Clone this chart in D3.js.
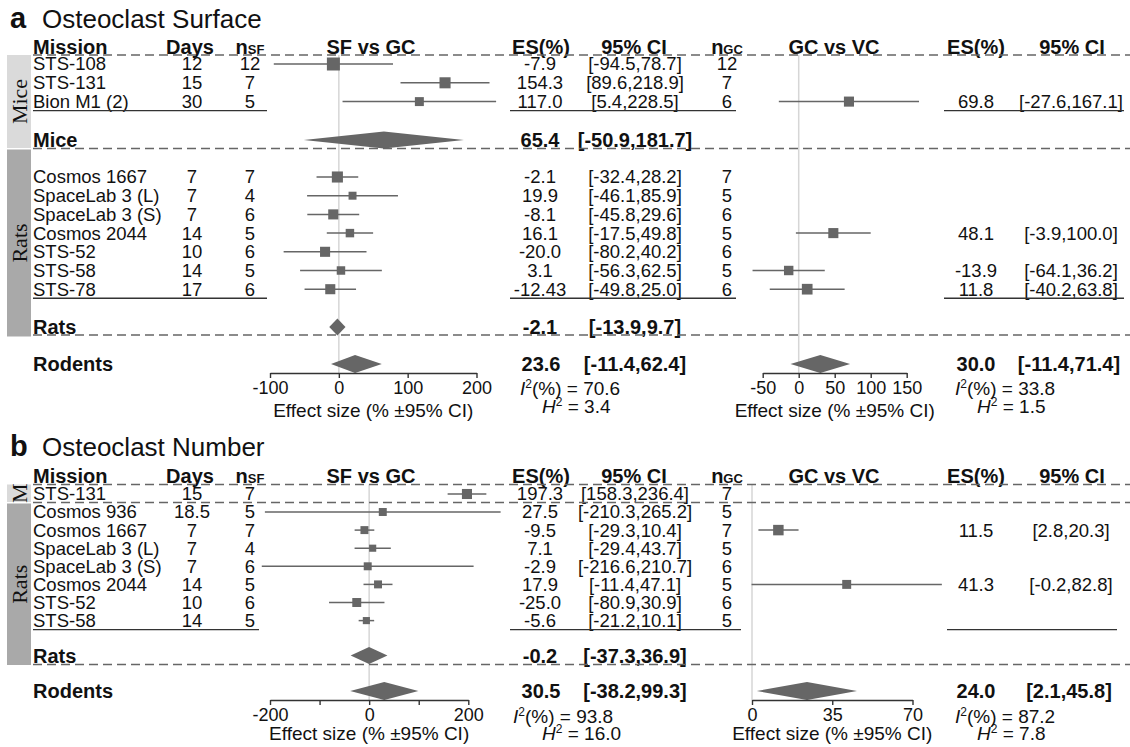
<!DOCTYPE html>
<html>
<head>
<meta charset="utf-8">
<script src="https://cdn.jsdelivr.net/npm/d3@7"></script>
<style>
  body { margin: 0; background: #fff; }
  svg text { font-family: "Liberation Sans", Arial, sans-serif; fill: #111; }
</style>
</head>
<body>
<svg id="chart" width="1130" height="747"></svg>
<script>
// ---- panel a: osteoclast surface ----
const aMission = ["STS-108", "STS-131", "Bion M1 (2)", "Cosmos 1667", "SpaceLab 3 (L)", "SpaceLab 3 (S)", "Cosmos 2044", "STS-52", "STS-58", "STS-78"];
const aGroup = ["Mice", "Mice", "Mice", "Rats", "Rats", "Rats", "Rats", "Rats", "Rats", "Rats"];
const aDays = [12, 15, 30, 7, 7, 7, 14, 10, 14, 17];
const aNsf = [12, 7, 5, 7, 4, 6, 5, 6, 5, 6];
const aNgc = [12, 7, 6, 7, 5, 6, 5, 6, 5, 6];
const aSfEs = [-7.9, 154.3, 117.0, -2.1, 19.9, -8.1, 16.1, -20.0, 3.1, -12.43];
const aSfLo = [-94.5, 89.6, 5.4, -32.4, -46.1, -45.8, -17.5, -80.2, -56.3, -49.8];
const aSfHi = [78.7, 218.9, 228.5, 28.2, 85.9, 29.6, 49.8, 40.2, 62.5, 25.0];
const aSfWeight = [40, 29, 19, 29, 15, 24, 17, 24, 17, 24];
const aGcEs = [null, null, 69.8, null, null, null, 48.1, null, -13.9, 11.8];
const aGcLo = [null, null, -27.6, null, null, null, -3.9, null, -64.1, -40.2];
const aGcHi = [null, null, 167.1, null, null, null, 100.0, null, 36.2, 63.8];
const aGcWeight = [null, null, 24, null, null, null, 24, null, 21, 27];
const aSubgroups = ["Mice", "Rats"];
const aSubEs = [65.4, -2.1];
const aSubLo = [-50.9, -13.9];
const aSubHi = [181.7, 9.7];
const aOverallSf = [23.6, -11.4, 62.4];
const aOverallGc = [30.0, -11.4, 71.4];
const aI2 = [70.6, 33.8];
const aH2 = [3.4, 1.5];
const aSfTicks = [-100, 0, 100, 200];
const aSfTickLabels = [-100, 0, 100, 200];
const aGcTicks = [-50, 0, 50, 100, 150];

// ---- panel b: osteoclast number ----
const bMission = ["STS-131", "Cosmos 936", "Cosmos 1667", "SpaceLab 3 (L)", "SpaceLab 3 (S)", "Cosmos 2044", "STS-52", "STS-58"];
const bGroup = ["M", "Rats", "Rats", "Rats", "Rats", "Rats", "Rats", "Rats"];
const bDays = [15, 18.5, 7, 7, 7, 14, 10, 14];
const bNsf = [7, 5, 7, 4, 6, 5, 6, 5];
const bNgc = [7, 5, 7, 5, 6, 5, 6, 5];
const bSfEs = [197.3, 27.5, -9.5, 7.1, -2.9, 17.9, -25.0, -5.6];
const bSfLo = [158.3, -210.3, -29.3, -29.4, -216.6, -11.4, -80.9, -21.2];
const bSfHi = [236.4, 265.2, 10.4, 43.7, 210.7, 47.1, 30.9, 10.1];
const bSfWeight = [24, 15, 15, 12, 15, 15, 19, 12];
const bGcEs = [null, null, 11.5, null, null, 41.3, null, null];
const bGcLo = [null, null, 2.8, null, null, -0.2, null, null];
const bGcHi = [null, null, 20.3, null, null, 82.8, null, null];
const bGcWeight = [null, null, 26, null, null, 19, null, null];
const bSubgroups = ["Rats"];
const bSubEs = [-0.2];
const bSubLo = [-37.3];
const bSubHi = [36.9];
const bOverallSf = [30.5, -38.2, 99.3];
const bOverallGc = [24.0, 2.1, 45.8];
const bI2 = [93.8, 87.2];
const bH2 = [16.0, 7.8];
const bSfTicks = [-200, -100, 0, 100, 200];
const bSfTickLabels = [-200, 0, 200];
const bGcTicks = [0, 35, 70];

const MARK = "#666", REF = "#d6d6d6", LINE = "#333", DASH = "#666";
const svg = d3.select("#chart");
const size = d3.scaleSqrt().domain([0, 40]).range([0, 13]);

// one decimal unless the value was reported with more
const fmt = v => {
	const t = v * 10;
	return Math.abs(t - Math.round(t)) < 1e-6 ? v.toFixed(1) : String(v);
};
const ciText = (lo, hi) => `[${fmt(lo)},${fmt(hi)}]`;

function txt(g, x, y, s, opts = {}) {
	return g.append("text")
		.attr("x", x).attr("y", y)
		.attr("dy", opts.dy !== undefined ? opts.dy : "0.35em")
		.attr("text-anchor", opts.anchor || "middle")
		.style("font-size", (opts.size || 18.5) + "px")
		.style("font-weight", opts.bold ? "bold" : null)
		.text(s);
}

function hline(g, x1, x2, y, dashed) {
	g.append("line")
		.attr("x1", x1).attr("x2", x2).attr("y1", y).attr("y2", y)
		.attr("stroke", dashed ? DASH : LINE)
		.attr("stroke-width", dashed ? 1.3 : 1.4)
		.attr("stroke-dasharray", dashed ? "9,5" : null);
}

function diamond(g, sc, y, es, lo, hi, h) {
	g.append("path")
		.attr("d", `M${sc(lo)},${y}L${sc(es)},${y - h}L${sc(hi)},${y}L${sc(es)},${y + h}Z`)
		.attr("fill", MARK);
}

function study(g, sc, y, es, lo, hi, w) {
	g.append("line")
		.attr("x1", sc(lo)).attr("x2", sc(hi)).attr("y1", y).attr("y2", y)
		.attr("stroke", MARK).attr("stroke-width", 1.5);
	const s = size(w);
	g.append("rect")
		.attr("x", sc(es) - s / 2).attr("y", y - s / 2)
		.attr("width", s).attr("height", s)
		.attr("fill", MARK);
}

function stats(g, x1, x2, y1, y2, i2, h2) {
	const t1 = g.append("text").attr("x", x1).attr("y", y1).attr("dy", "0.35em").style("font-size", "19px");
	t1.append("tspan").style("font-style", "italic").text("I");
	t1.append("tspan").attr("dy", -7).style("font-size", "12px").text("2");
	t1.append("tspan").attr("dy", 7).text(`(%) = ${fmt(i2)}`);
	const t2 = g.append("text").attr("x", x2).attr("y", y2).attr("dy", "0.35em").style("font-size", "19px");
	t2.append("tspan").style("font-style", "italic").text("H");
	t2.append("tspan").attr("dy", -7).style("font-size", "12px").text("2");
	t2.append("tspan").attr("dy", 7).text(` = ${fmt(h2)}`);
}

function axis(g, sc, ticks, labels, y) {
	const ax = g.append("g")
		.attr("transform", `translate(0,${y})`)
		.call(d3.axisBottom(sc).tickValues(ticks).tickSize(5).tickSizeOuter(0)
			.tickFormat(v => labels.includes(v) ? v : ""));
	ax.attr("font-family", null).attr("font-size", null);
	ax.select(".domain").attr("stroke", LINE).attr("stroke-width", 1.4);
	ax.selectAll(".tick line").attr("stroke", LINE).attr("stroke-width", 1.4);
	ax.selectAll(".tick text").attr("fill", "#111").style("font-size", "18px");
}

function drawPanel(d, L) {
	const g = svg.append("g");
	const x = d3.scaleLinear().domain(d3.extent(d.sfTicks)).range(L.sfRange);
	const xg = d3.scaleLinear().domain(d3.extent(d.gcTicks)).range(L.gcRange);

	// title
	g.append("text").attr("x", 10).attr("y", L.titleBase)
		.style("font-size", "29px").style("font-weight", "bold").text(d.letter);
	g.append("text").attr("x", 42).attr("y", L.titleBase)
		.style("font-size", "26px").text(d.title);

	// column headers
	const hb = L.headBase;
	const head = [["Mission", 33, "start"], ["Days", 190], ["SF vs GC", 371], ["ES(%)", 541], ["95% CI", 634],
		["GC vs VC", 834], ["ES(%)", 976], ["95% CI", 1072]];
	head.forEach(([s, hx, a]) => txt(g, hx, hb, s, { dy: 0, anchor: a, size: 20, bold: true }));
	[["SF", 250], ["GC", 727]].forEach(([sub, hx]) => {
		const t = txt(g, hx, hb, "", { dy: 0, size: 20, bold: true });
		t.append("tspan").text("n");
		t.append("tspan").style("font-size", "13px").text(sub);
	});

	// reference lines at zero
	[x(0), xg(0)].forEach(rx => {
		g.append("line").attr("x1", rx).attr("x2", rx).attr("y1", L.headDash).attr("y2", L.axisY)
			.attr("stroke", REF).attr("stroke-width", 1.5);
	});
	hline(g, 33, 1130, L.headDash, true);

	const groups = Array.from(new Set(d.group));
	groups.forEach((grp, gi) => {
		const G = L.groups[gi];
		const idx = d.group.map((v, i) => v === grp ? i : -1).filter(i => i >= 0);

		// side bar
		g.append("rect").attr("x", 7).attr("y", G.barTop).attr("width", 24)
			.attr("height", G.barBot - G.barTop).attr("fill", G.shade);
		g.append("text")
			.attr("transform", `translate(19,${(G.barTop + G.barBot) / 2}) rotate(-90)`)
			.attr("text-anchor", "middle").attr("dy", "0.35em")
			.style("font-family", "'Liberation Serif', 'Times New Roman', serif")
			.style("font-size", "22px").text(grp);

		idx.forEach((i, j) => {
			const y = G.first + j * G.step;
			txt(g, 33, y, d.mission[i], { anchor: "start" });
			txt(g, 192, y, d.days[i]);
			txt(g, 250, y, d.nsf[i]);
			txt(g, 540, y, fmt(d.sfEs[i]));
			txt(g, 635, y, ciText(d.sfLo[i], d.sfHi[i]));
			txt(g, 727, y, d.ngc[i]);
			study(g, x, y, d.sfEs[i], d.sfLo[i], d.sfHi[i], d.sfWeight[i]);
			if (d.gcEs[i] !== null) {
				txt(g, 976, y, fmt(d.gcEs[i]));
				txt(g, 1071, y, ciText(d.gcLo[i], d.gcHi[i]));
				study(g, xg, y, d.gcEs[i], d.gcLo[i], d.gcHi[i], d.gcWeight[i]);
			}
		});

		const si = d.subgroups.indexOf(grp);
		if (si >= 0) {
			const uy = G.first + (idx.length - 1) * G.step + 9;
			hline(g, L.under.left[0], L.under.left[1], uy);
			hline(g, L.under.mid[0], L.under.mid[1], uy);
			hline(g, L.under.right[0], L.under.right[1], uy);
			txt(g, 33, G.sumY, grp, { anchor: "start", size: 20, bold: true });
			txt(g, 540, G.sumY, fmt(d.subEs[si]), { size: 20, bold: true });
			txt(g, 635, G.sumY, ciText(d.subLo[si], d.subHi[si]), { size: 20, bold: true });
			diamond(g, x, G.sumY, d.subEs[si], d.subLo[si], d.subHi[si], 8.5);
		}
		hline(g, 33, 1130, G.dashY, true);
	});

	// overall rodents row
	const ry = L.rodentsY;
	txt(g, 33, ry, "Rodents", { anchor: "start", size: 20, bold: true });
	txt(g, 541, ry, fmt(d.overallSf[0]), { size: 20, bold: true });
	txt(g, 635, ry, ciText(d.overallSf[1], d.overallSf[2]), { size: 20, bold: true });
	txt(g, 976, ry, fmt(d.overallGc[0]), { size: 20, bold: true });
	txt(g, 1069, ry, ciText(d.overallGc[1], d.overallGc[2]), { size: 20, bold: true });
	diamond(g, x, ry, d.overallSf[0], d.overallSf[1], d.overallSf[2], 9);
	diamond(g, xg, ry, d.overallGc[0], d.overallGc[1], d.overallGc[2], 9);

	// axes
	axis(g, x, d.sfTicks, d.sfTickLabels, L.axisY);
	axis(g, xg, d.gcTicks, d.gcTicks, L.axisY);
	[x, xg].forEach(sc => {
		const r = sc.range();
		txt(g, (r[0] + r[1]) / 2, L.axisTitleY, "Effect size (% \u00b195% CI)", { size: 19 });
	});

	// heterogeneity
	stats(g, L.statsX[0][0], L.statsX[0][1], L.statsY[0], L.statsY[1], d.i2[0], d.h2[0]);
	stats(g, L.statsX[1][0], L.statsX[1][1], L.statsY[0], L.statsY[1], d.i2[1], d.h2[1]);
}

drawPanel({
	letter: "a", title: "Osteoclast Surface",
	mission: aMission, group: aGroup, days: aDays, nsf: aNsf, ngc: aNgc,
	sfEs: aSfEs, sfLo: aSfLo, sfHi: aSfHi, sfWeight: aSfWeight,
	gcEs: aGcEs, gcLo: aGcLo, gcHi: aGcHi, gcWeight: aGcWeight,
	subgroups: aSubgroups, subEs: aSubEs, subLo: aSubLo, subHi: aSubHi,
	overallSf: aOverallSf, overallGc: aOverallGc, i2: aI2, h2: aH2,
	sfTicks: aSfTicks, sfTickLabels: aSfTickLabels, gcTicks: aGcTicks
}, {
	titleBase: 28, headBase: 53.5, headDash: 55,
	groups: [
		{ first: 64, step: 18.8, sumY: 140, dashY: 148.5, barTop: 55, barBot: 148, shade: "#dadada" },
		{ first: 177, step: 18.7, sumY: 327, dashY: 335, barTop: 149.5, barBot: 336.5, shade: "#a9a9a9" }
	],
	rodentsY: 364, axisY: 373, axisTitleY: 410, statsY: [388, 406],
	statsX: [[520, 542], [955, 977]],
	sfRange: [270, 476.5], gcRange: [762.7, 906.7],
	under: { left: [33, 267], mid: [510, 736], right: [944, 1124] }
});

drawPanel({
	letter: "b", title: "Osteoclast Number",
	mission: bMission, group: bGroup, days: bDays, nsf: bNsf, ngc: bNgc,
	sfEs: bSfEs, sfLo: bSfLo, sfHi: bSfHi, sfWeight: bSfWeight,
	gcEs: bGcEs, gcLo: bGcLo, gcHi: bGcHi, gcWeight: bGcWeight,
	subgroups: bSubgroups, subEs: bSubEs, subLo: bSubLo, subHi: bSubHi,
	overallSf: bOverallSf, overallGc: bOverallGc, i2: bI2, h2: bH2,
	sfTicks: bSfTicks, sfTickLabels: bSfTickLabels, gcTicks: bGcTicks
}, {
	titleBase: 456, headBase: 483, headDash: 484.5,
	groups: [
		{ first: 494, step: 0, sumY: null, dashY: 502.5, barTop: 484.5, barBot: 502, shade: "#dadada" },
		{ first: 512, step: 18.1, sumY: 655.5, dashY: 664.5, barTop: 503.5, barBot: 665, shade: "#a9a9a9" }
	],
	rodentsY: 691, axisY: 700, axisTitleY: 733.5, statsY: [716.5, 733],
	statsX: [[513, 542], [955, 977]],
	sfRange: [270, 468.3], gcRange: [752, 912.5],
	under: { left: [33, 259], mid: [510, 741], right: [947, 1117] }
});
</script>
</body>
</html>
